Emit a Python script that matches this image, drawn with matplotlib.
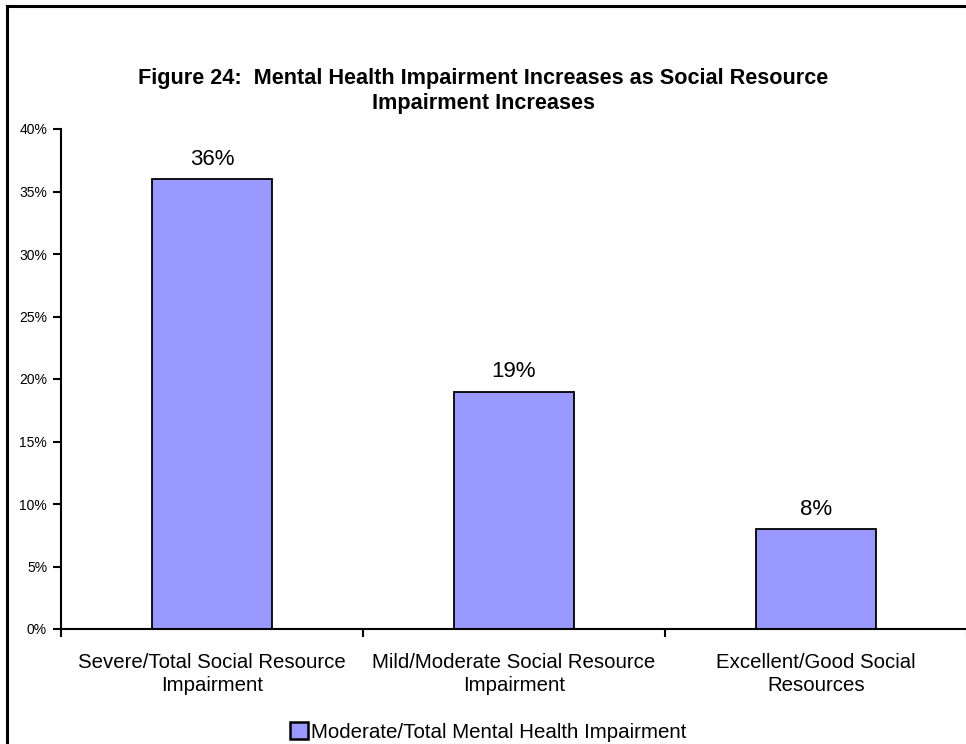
import matplotlib
matplotlib.use("Agg")
import matplotlib.pyplot as plt
from matplotlib.lines import Line2D
from matplotlib.ticker import FixedLocator, FuncFormatter

plt.rcParams['font.family'] = ['Liberation Sans', 'DejaVu Sans']

categories = ["Severe/Total Social Resource\nImpairment",
              "Mild/Moderate Social Resource\nImpairment",
              "Excellent/Good Social\nResources"]
values = [36, 19, 8]
series_name = "Moderate/Total Mental Health Impairment"
title = "Figure 24:  Mental Health Impairment Increases as Social Resource\nImpairment Increases"
yticks = [0, 5, 10, 15, 20, 25, 30, 35, 40]

W, H = 966, 744
fig = plt.figure(figsize=(W / 100, H / 100), dpi=100)

# outer chart frame (top and left edges visible)
fig.add_artist(Line2D([7 / W, 7 / W], [0, 1 - 6 / H], transform=fig.transFigure,
                      color="black", lw=2.2))
fig.add_artist(Line2D([7 / W, 1], [1 - 6 / H, 1 - 6 / H], transform=fig.transFigure,
                      color="black", lw=2.2))

ax_l, ax_r, ax_t, ax_b = 61, 967, 129, 629
ax = fig.add_axes([ax_l / W, 1 - ax_b / H, (ax_r - ax_l) / W, (ax_b - ax_t) / H])

x = list(range(len(categories)))
ax.bar(x, values, width=0.4, color="#9999FF", edgecolor="black", linewidth=1.3)
for xi, v in zip(x, values):
    ax.text(xi, v + 0.75, f"{v}%", ha="center", va="bottom", fontsize=16)

ax.set_xlim(-0.5, len(categories) - 0.5)
ax.set_ylim(0, 40)
for s in ("top", "right"):
    ax.spines[s].set_visible(False)
ax.spines["left"].set_linewidth(1.5)
ax.spines["bottom"].set_linewidth(1.5)

ax.yaxis.set_major_locator(FixedLocator(yticks))
ax.yaxis.set_major_formatter(FuncFormatter(lambda v, p: f"{int(v)}%"))
ax.tick_params(axis="y", direction="out", length=6, width=1.5, labelsize=10, pad=4)

ax.xaxis.set_major_locator(FixedLocator([i - 0.5 for i in range(len(categories) + 1)]))
ax.xaxis.set_major_formatter(FuncFormatter(lambda v, p: ""))
ax.tick_params(axis="x", which="major", direction="out", length=6, width=1.5)
ax.set_xticks(x, minor=True)
ax.set_xticklabels(categories, minor=True, fontsize=14.7, linespacing=1.3)
ax.tick_params(axis="x", which="minor", length=0, pad=17)

fig.text(0.5, 1 - 91 / H, title, ha="center", va="center", fontsize=15.6,
         fontweight="bold", linespacing=1.25)

handle = plt.Rectangle((0, 0), 1, 1, facecolor="#9999FF", edgecolor="black", linewidth=1.8)
fig.legend([handle], [series_name], loc="center", bbox_to_anchor=(488 / W, 1 - 732 / H),
           frameon=False, fontsize=14.8, handlelength=0.85, handleheight=0.85,
           handletextpad=0.15)

fig.savefig("out.png", dpi=100)
